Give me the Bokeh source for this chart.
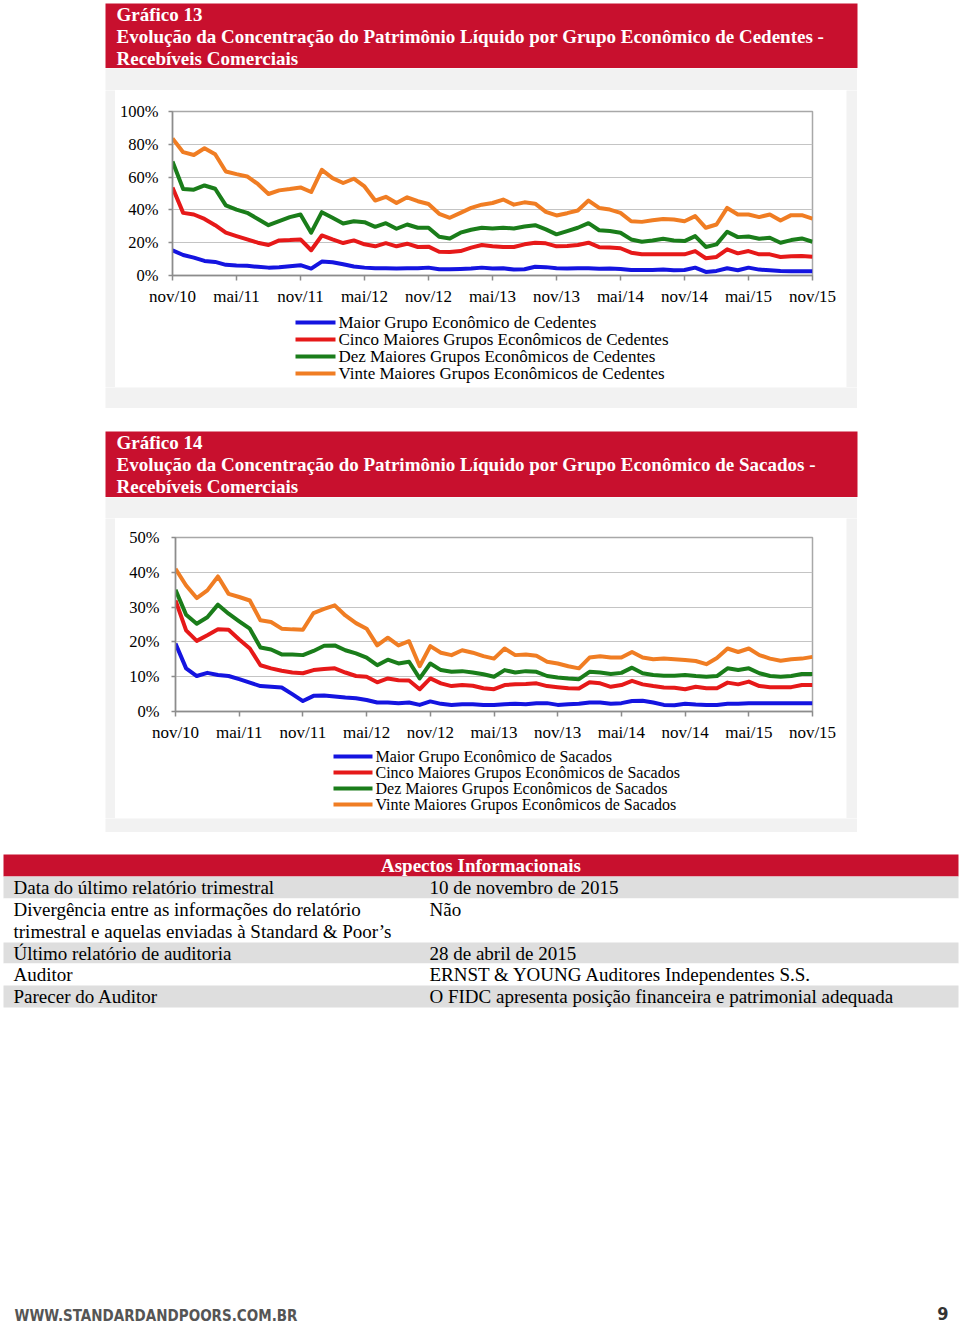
from bokeh.plotting import figure
from bokeh.layouts import column, row
from bokeh.models import Range1d, FixedTicker, NumeralTickFormatter
from bokeh.core.properties import value
from bokeh.embed import file_html
from bokeh.resources import INLINE

# ---------------- data ----------------
tick_labels = ["nov/10", "mai/11", "nov/11", "mai/12", "nov/12", "mai/13",
               "nov/13", "mai/14", "nov/14", "mai/15", "nov/15"]
n_months = 61  # monthly observations nov/10 .. nov/15

series_names_13 = ["Maior Grupo Econômico de Cedentes",
                   "Cinco Maiores Grupos Econômicos de Cedentes",
                   "Dez Maiores Grupos Econômicos de Cedentes",
                   "Vinte Maiores Grupos Econômicos de Cedentes"]
series_names_14 = ["Maior Grupo Econômico de Sacados",
                   "Cinco Maiores Grupos Econômicos de Sacados",
                   "Dez Maiores Grupos Econômicos de Sacados",
                   "Vinte Maiores Grupos Econômicos de Sacados"]

c13_maior = [15.4, 12.5, 10.9, 8.9, 8.3, 6.5, 6.1, 5.9, 5.3, 4.8, 5.1, 5.7, 6.3, 4.2, 8.5, 8.1, 6.9, 5.5, 4.8, 4.4, 4.4,
             4.2, 4.4, 4.4, 4.8, 3.8, 3.8, 4.0, 4.2, 4.8, 4.2, 4.4, 3.6, 3.8, 5.3, 5.1, 4.4, 4.2, 4.4, 4.4, 4.1,
             4.2, 4.0, 3.4, 3.4, 3.4, 3.6, 3.2, 3.4, 4.8, 2.2, 2.8, 4.4, 3.2, 4.8, 3.6, 3.2, 2.8, 2.6, 2.6, 2.6]
c13_cinco = [53.7, 38.2, 37.2, 34.5, 30.7, 26.1, 24.0, 22.0, 20.0, 18.6, 21.4, 21.6, 22.0, 15.4, 24.4, 22.0, 19.8, 21.4, 19.0, 17.8, 19.7,
             17.8, 19.4, 17.4, 17.6, 14.5, 14.3, 14.9, 17.0, 18.6, 17.8, 17.4, 17.4, 19.0, 20.0, 19.6, 17.8, 18.0, 18.6, 20.0, 17.3,
             17.0, 16.6, 13.9, 12.9, 12.9, 12.9, 12.9, 12.9, 14.9, 10.5, 11.3, 16.0, 13.5, 14.9, 12.9, 12.9, 11.3, 11.7, 11.9, 11.5]
c13_dez = [69.5, 52.7, 52.3, 54.9, 52.9, 42.8, 40.2, 38.2, 34.5, 30.7, 33.1, 35.6, 37.2, 26.1, 38.6, 35.2, 31.7, 33.1, 32.5, 29.7, 31.9,
           28.5, 31.1, 29.1, 29.1, 23.6, 22.6, 26.1, 27.9, 29.1, 28.7, 29.1, 28.7, 29.9, 30.7, 28.1, 25.1, 27.1, 29.1, 31.9, 27.6,
           27.1, 26.1, 22.0, 20.6, 21.4, 22.4, 21.4, 21.0, 24.0, 17.4, 19.0, 26.7, 23.4, 23.8, 22.4, 23.0, 20.0, 21.6, 22.6, 20.6]
c13_vinte = [83.6, 75.2, 73.5, 77.6, 73.9, 63.4, 61.8, 60.4, 55.8, 49.7, 51.9, 52.7, 53.7, 50.9, 64.4, 59.4, 56.4, 59.0, 54.3, 45.7, 48.0,
             44.2, 47.7, 45.3, 43.6, 37.6, 35.2, 38.2, 41.2, 43.2, 44.2, 46.3, 43.2, 44.6, 43.8, 38.8, 36.6, 38.0, 39.6, 45.7, 41.2,
             40.2, 38.2, 33.1, 32.7, 33.7, 34.5, 34.1, 33.1, 36.2, 29.1, 31.1, 41.2, 37.2, 37.2, 35.6, 37.2, 33.5, 36.8, 36.8, 34.7]

c14_maior = [19.5, 12.4, 10.2, 11.1, 10.5, 10.2, 9.3, 8.3, 7.3, 7.1, 6.9, 5.0, 3.0, 4.5, 4.6, 4.3, 4.0, 3.8, 3.3, 2.6, 2.6,
             2.4, 2.6, 1.9, 2.9, 2.2, 1.9, 2.1, 2.1, 1.9, 1.9, 2.1, 2.2, 2.1, 2.4, 2.4, 1.9, 2.1, 2.2, 2.6, 2.6,
             2.2, 2.4, 3.0, 3.1, 2.6, 1.9, 1.8, 2.2, 2.0, 1.9, 1.9, 2.2, 2.2, 2.4, 2.4, 2.4, 2.4, 2.4, 2.4, 2.4]
c14_cinco = [31.9, 23.3, 20.3, 21.9, 23.6, 23.5, 20.7, 18.1, 13.3, 12.4, 11.7, 11.2, 11.0, 11.9, 12.2, 12.4, 11.2, 10.2, 10.0, 8.4, 9.5,
             9.0, 8.9, 6.4, 9.5, 8.1, 7.3, 7.6, 7.4, 6.7, 6.4, 7.6, 7.8, 7.9, 8.1, 7.3, 7.0, 6.7, 6.6, 8.4, 8.1,
             7.1, 7.6, 8.8, 7.8, 7.3, 6.9, 6.8, 6.4, 7.1, 6.7, 6.7, 8.3, 7.8, 8.6, 7.3, 7.0, 7.0, 7.0, 7.6, 7.6]
c14_dez = [35.0, 27.8, 25.2, 27.1, 30.7, 28.1, 25.9, 23.8, 18.4, 17.8, 16.4, 16.4, 16.2, 17.4, 18.9, 19.0, 17.6, 16.7, 15.5, 13.3, 14.9,
           13.8, 14.3, 9.5, 13.8, 11.9, 11.4, 11.6, 11.2, 10.7, 10.0, 11.9, 11.2, 11.6, 11.4, 10.2, 9.8, 9.5, 9.3, 11.4, 11.2,
           10.8, 11.1, 12.6, 11.0, 10.5, 10.3, 10.3, 10.5, 10.2, 10.0, 10.2, 12.4, 11.9, 12.4, 11.0, 10.2, 10.0, 10.2, 10.8, 10.8]
c14_vinte = [41.0, 36.2, 32.6, 34.8, 38.8, 33.8, 32.9, 31.9, 26.2, 25.7, 23.8, 23.6, 23.5, 28.3, 29.5, 30.5, 27.6, 25.4, 23.8, 19.0, 21.2,
             19.0, 20.2, 13.0, 18.8, 16.9, 16.2, 17.6, 16.9, 15.9, 15.2, 18.1, 16.2, 16.4, 16.0, 14.3, 13.8, 13.0, 12.4, 15.5, 15.9,
             15.5, 15.5, 17.1, 15.5, 15.0, 15.2, 15.0, 14.8, 14.5, 13.6, 15.4, 18.1, 17.1, 18.1, 16.2, 15.2, 14.6, 15.0, 15.2, 15.7]

title_13 = ["Gráfico 13",
            "Evolução da Concentração do Patrimônio Líquido por Grupo Econômico de Cedentes -",
            "Recebíveis Comerciais"]
title_14 = ["Gráfico 14",
            "Evolução da Concentração do Patrimônio Líquido por Grupo Econômico de Sacados -",
            "Recebíveis Comerciais"]

table_title = "Aspectos Informacionais"
table_labels = ["Data do último relatório trimestral",
                "Divergência entre as informações do relatório\ntrimestral e aquelas enviadas à Standard & Poor’s",
                "Último relatório de auditoria",
                "Auditor",
                "Parecer do Auditor"]
table_values = ["10 de novembro de 2015",
                "Não",
                "28 de abril de 2015",
                "ERNST & YOUNG Auditores Independentes S.S.",
                "O FIDC apresenta posição financeira e patrimonial adequada"]
footer_text = "WWW.STANDARDANDPOORS.COM.BR"
page_number = "9"

# ---------------- styles ----------------
SERIF = "Liberation Serif"
RED = "#c8102e"
PANEL = "#f2f2f2"
ROWGRAY = "#dedede"
LINE_COLORS = ["#1414e0", "#e61919", "#1a7d1a", "#f07d23"]
W = 960


def base_fig(w, h, **kw):
    f = figure(width=w, height=h, toolbar_location=None, output_backend="svg",
               x_axis_type=None, y_axis_type=None, **kw)
    f.outline_line_color = None
    f.grid.visible = False
    return f


def block(w, h, color):
    f = base_fig(w, h, x_range=Range1d(0, 1), y_range=Range1d(0, 1), min_border=0)
    f.background_fill_color = color
    f.border_fill_color = color
    return f


def canvas(w, h, x0, y0, left=0, right=0):
    # a strip in page pixel coordinates (y grows downward); frame spans x0+left .. x0+w-right
    f = base_fig(w, h, x_range=Range1d(x0 + left, x0 + w - right), y_range=Range1d(y0 + h, y0),
                 min_border=0, min_border_left=left, min_border_right=right)
    f.background_fill_color = "white"
    f.border_fill_color = "white"
    return f


def header(y0, h, box_top, box_bottom, lines, centers):
    f = canvas(W, h, 0, y0)
    f.quad(left=105, right=857, top=box_top, bottom=box_bottom, fill_color=RED, line_color=None)
    f.text(x=[116] * len(lines), y=centers, text=lines, text_font=value(SERIF),
           text_font_style="bold", text_font_size="19px", text_color="white",
           text_baseline="middle", text_align="left")
    return f


def chart(w, h, left, right, top, bottom, ymax, ystep, series, ystandoff):
    p = figure(width=w, height=h, x_range=Range1d(0, n_months - 1), y_range=Range1d(0, ymax),
               toolbar_location=None, output_backend="svg",
               min_border_left=left, min_border_right=right,
               min_border_top=top, min_border_bottom=bottom)
    p.background_fill_color = "white"
    p.border_fill_color = "white"
    p.outline_line_color = "#a8a8a8"
    p.outline_line_width = 1.5
    xs = list(range(n_months))
    for vals, col in zip(series, LINE_COLORS):
        p.line(xs, [v / 100.0 for v in vals], line_color=col, line_width=4, line_join="round")
    xticks = [i * 6 for i in range(len(tick_labels))]
    p.xaxis.ticker = FixedTicker(ticks=xticks)
    p.xaxis.major_label_overrides = {t: lbl for t, lbl in zip(xticks, tick_labels)}
    nsteps = int(round(ymax / ystep))
    yticks = [round(i * ystep, 4) for i in range(nsteps + 1)]
    p.yaxis.ticker = FixedTicker(ticks=yticks)
    p.yaxis.formatter = NumeralTickFormatter(format="0%")
    for ax in (p.xaxis, p.yaxis):
        ax.axis_line_color = "#8c8c8c"
        ax.axis_line_width = 1.5
        ax.major_tick_line_color = "#8c8c8c"
        ax.major_tick_line_width = 1.5
        ax.major_tick_in = 0
        ax.minor_tick_line_color = None
        ax.major_label_text_font = SERIF
        ax.major_label_text_color = "black"
    p.xaxis.major_label_text_font_size = "17px"
    p.yaxis.major_label_text_font_size = "16.5px"
    p.xaxis.major_tick_out = 5
    p.xaxis.major_label_standoff = 6
    p.yaxis.major_tick_out = 4
    p.yaxis.major_label_standoff = ystandoff
    p.xgrid.visible = False
    p.ygrid.grid_line_color = "#c4c4c4"
    p.ygrid.grid_line_width = 1.2
    return p


def legend_fig(w, h, x0, y0, left, right, names, gx0, gx1, first_y, step, font_px):
    # key drawn in page pixel coordinates; borders match the chart above it
    f = canvas(w, h, x0, y0, left, right)
    ys = [first_y + step * k for k in range(len(names))]
    f.segment(x0=[gx0] * len(names), y0=ys, x1=[gx1] * len(names), y1=ys,
              line_color=LINE_COLORS, line_width=4)
    f.text(x=[gx1 + 3] * len(names), y=ys, text=names, text_font=value(SERIF),
           text_font_size=font_px, text_color="black", text_align="left",
           text_baseline="middle")
    return f


# ---------------- section A: header 13 (page y 0..68) ----------------
sec_a = header(0, 68, 3, 68, title_13, [14, 36, 58])

# ---------------- section B: chart 13 panel (page y 68..408) ----------------
ch13 = chart(731, 218, 57, 34, 21, 32, 1.0, 0.2,
             [c13_maior, c13_cinco, c13_dez, c13_vinte], 10)
lg13 = legend_fig(731, 79, 115, 308, 57, 34, series_names_13, 295, 335, 322, 17, "17px")
sec_b = row(block(105, 340, "white"),
            column(block(752, 22, PANEL),
                   row(block(10, 297, PANEL), column(ch13, lg13), block(11, 297, PANEL)),
                   block(752, 21, PANEL)),
            block(103, 340, "white"))

# ---------------- section C: header 14 (page y 408..497) ----------------
sec_c = header(408, 89, 431, 497, title_14, [442, 464, 486])

# ---------------- section D: chart 14 panel (page y 497..832) ----------------
ch14 = chart(731, 226, 60, 34, 19, 32, 0.5, 0.1,
             [c14_maior, c14_cinco, c14_dez, c14_vinte], 12)
lg14 = legend_fig(731, 74, 115, 744, 60, 34, series_names_14, 333, 372, 756, 16, "16px")
sec_d = row(block(105, 335, "white"),
            column(block(752, 21, PANEL),
                   row(block(10, 300, PANEL), column(ch14, lg14), block(11, 300, PANEL)),
                   block(752, 14, PANEL)),
            block(103, 335, "white"))

# ---------------- section E: table and footer (page y 832..1326) ----------------
sec_e = canvas(W, 494, 0, 832)
row_tops = [876, 898, 942, 963, 985]
row_heights = [22, 44, 21, 22, 22]
row_fill = [ROWGRAY, "white", ROWGRAY, "white", ROWGRAY]
sec_e.quad(left=3, right=958, top=854, bottom=876, fill_color=RED, line_color=None)
sec_e.quad(left=3, right=958, top=row_tops, bottom=[t + hh for t, hh in zip(row_tops, row_heights)],
           fill_color=row_fill, line_color=None)
sec_e.text(x=[480.5], y=[865], text=[table_title], text_font=value(SERIF), text_font_style="bold",
           text_font_size="19px", text_color="white", text_align="center", text_baseline="middle")
lx, ly, ltxt = [], [], []
for t, lab, val in zip(row_tops, table_labels, table_values):
    for k, part in enumerate(lab.split("\n")):
        lx.append(13); ly.append(t + 11 + 22 * k); ltxt.append(part)
    lx.append(429); ly.append(t + 11); ltxt.append(val)
sec_e.text(x=lx, y=ly, text=ltxt, text_font=value(SERIF), text_font_size="19px",
           text_color="black", text_align="left", text_baseline="middle")
sec_e.text(x=[14], y=[1315], text=[footer_text], text_font=value("DejaVu Sans Condensed"),
           text_font_style="bold", text_font_size="15px", text_color="#555555",
           text_align="left", text_baseline="middle")
sec_e.text(x=[948], y=[1313], text=[page_number], text_font=value("DejaVu Sans Condensed"),
           text_font_style="bold", text_font_size="18px", text_color="#333333",
           text_align="right", text_baseline="middle")

page = column(sec_a, sec_b, sec_c, sec_d, sec_e, spacing=0)

open("out.html", "w").write(file_html(page, INLINE))
